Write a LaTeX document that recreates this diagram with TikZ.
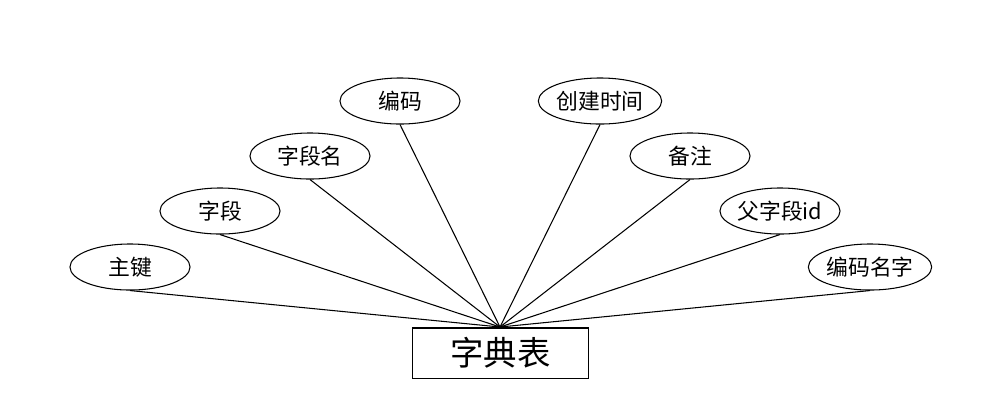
\documentclass[tikz,border=0pt]{standalone}
\usepackage{fontspec}
\setmainfont{Noto Sans CJK SC}
\usetikzlibrary{shapes.geometric}
\begin{document}
\begin{tikzpicture}[x=0.01cm,y=-0.01cm,line width=0.3pt,
  attr/.style={draw,ellipse,minimum width=1.2cm,minimum height=0.46cm,inner sep=0pt,font=\fontsize{6.2}{7}\selectfont},
  ent/.style={draw,rectangle,minimum width=1.75cm,minimum height=0.5cm,inner sep=0pt,font=\fontsize{9.5}{11}\selectfont}]
\useasboundingbox (0,0) rectangle (1000,408);
\node[ent] (t) at (500.5,353) {字典表};
\coordinate (hub) at (500,327);
\node[attr] (a1) at (130,267) {主键};
\node[attr] (a2) at (220,211) {字段};
\node[attr] (a3) at (310,156) {字段名};
\node[attr] (a4) at (400,101) {编码};
\node[attr] (a5) at (600,101) {创建时间};
\node[attr] (a6) at (690,156) {备注};
\node[attr] (a7) at (780,211) {父字段id};
\node[attr] (a8) at (870,267) {编码名字};
\foreach \n in {a1,a2,a3,a4,a5,a6,a7,a8} \draw (\n.south) -- (hub);
\end{tikzpicture}
\end{document}
